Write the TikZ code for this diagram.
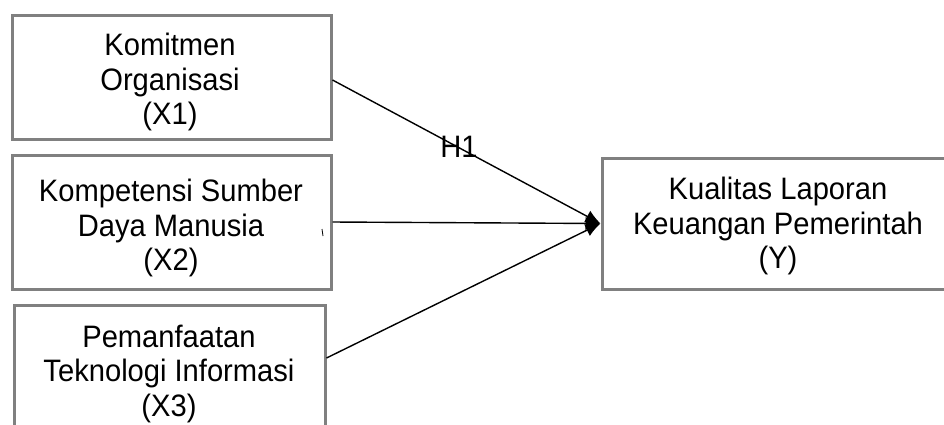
\documentclass[tikz,border=0pt]{standalone}
\usepackage{fontspec}
\setmainfont{Liberation Sans}[FakeStretch=0.94]
\usetikzlibrary{arrows.meta}
\definecolor{boxgray}{HTML}{808080}
\tikzset{
  varbox/.style={draw=boxgray, line width=3pt, fill=white, rectangle, inner sep=0pt},
  boxtext/.style={align=center, font=\fontsize{31}{34.5}\selectfont, inner sep=0pt},
  path/.style={draw=black, line width=1.4pt, -{Latex[length=15pt,width=13pt]}}
}
\begin{document}
\begin{tikzpicture}[x=1pt,y=-1pt]
\useasboundingbox (0,0) rectangle (944,424);
\node[varbox, minimum width=319pt, minimum height=124pt] (X1) at (171.5,77) {};
\node[varbox, minimum width=319pt, minimum height=134pt] (X2) at (171.5,222) {};
\node[varbox, minimum width=311pt, minimum height=134pt] (X3) at (169.5,372) {};
\node[varbox, minimum width=352pt, minimum height=131pt] (Y) at (778,223.5) {};
\node[boxtext] (X1t) at (170,82) {Komitmen\\Organisasi\\(X1)};
\node[boxtext] (X2t) at (171,228) {Kompetensi Sumber\\Daya Manusia\\(X2)};
\node[boxtext] (X3t) at (169,373.5) {Pemanfaatan\\Teknologi Informasi\\(X3)};
\node[boxtext] (Yt) at (778,226) {Kualitas Laporan\\Keuangan Pemerintah\\(Y)};
\draw[path] ([yshift=-3pt]X1.east) -- (Y.west);
\draw[path] (X2.east) -- (Y.west);
\draw[path] ([yshift=14pt]X3.east) -- (Y.west);
\node[font=\fontsize{31}{34.5}\selectfont, inner sep=0pt] (h1) at (459,147) {H1};
\draw[line width=0.8pt] (322,229) -- (323,236);
\end{tikzpicture}
\end{document}
